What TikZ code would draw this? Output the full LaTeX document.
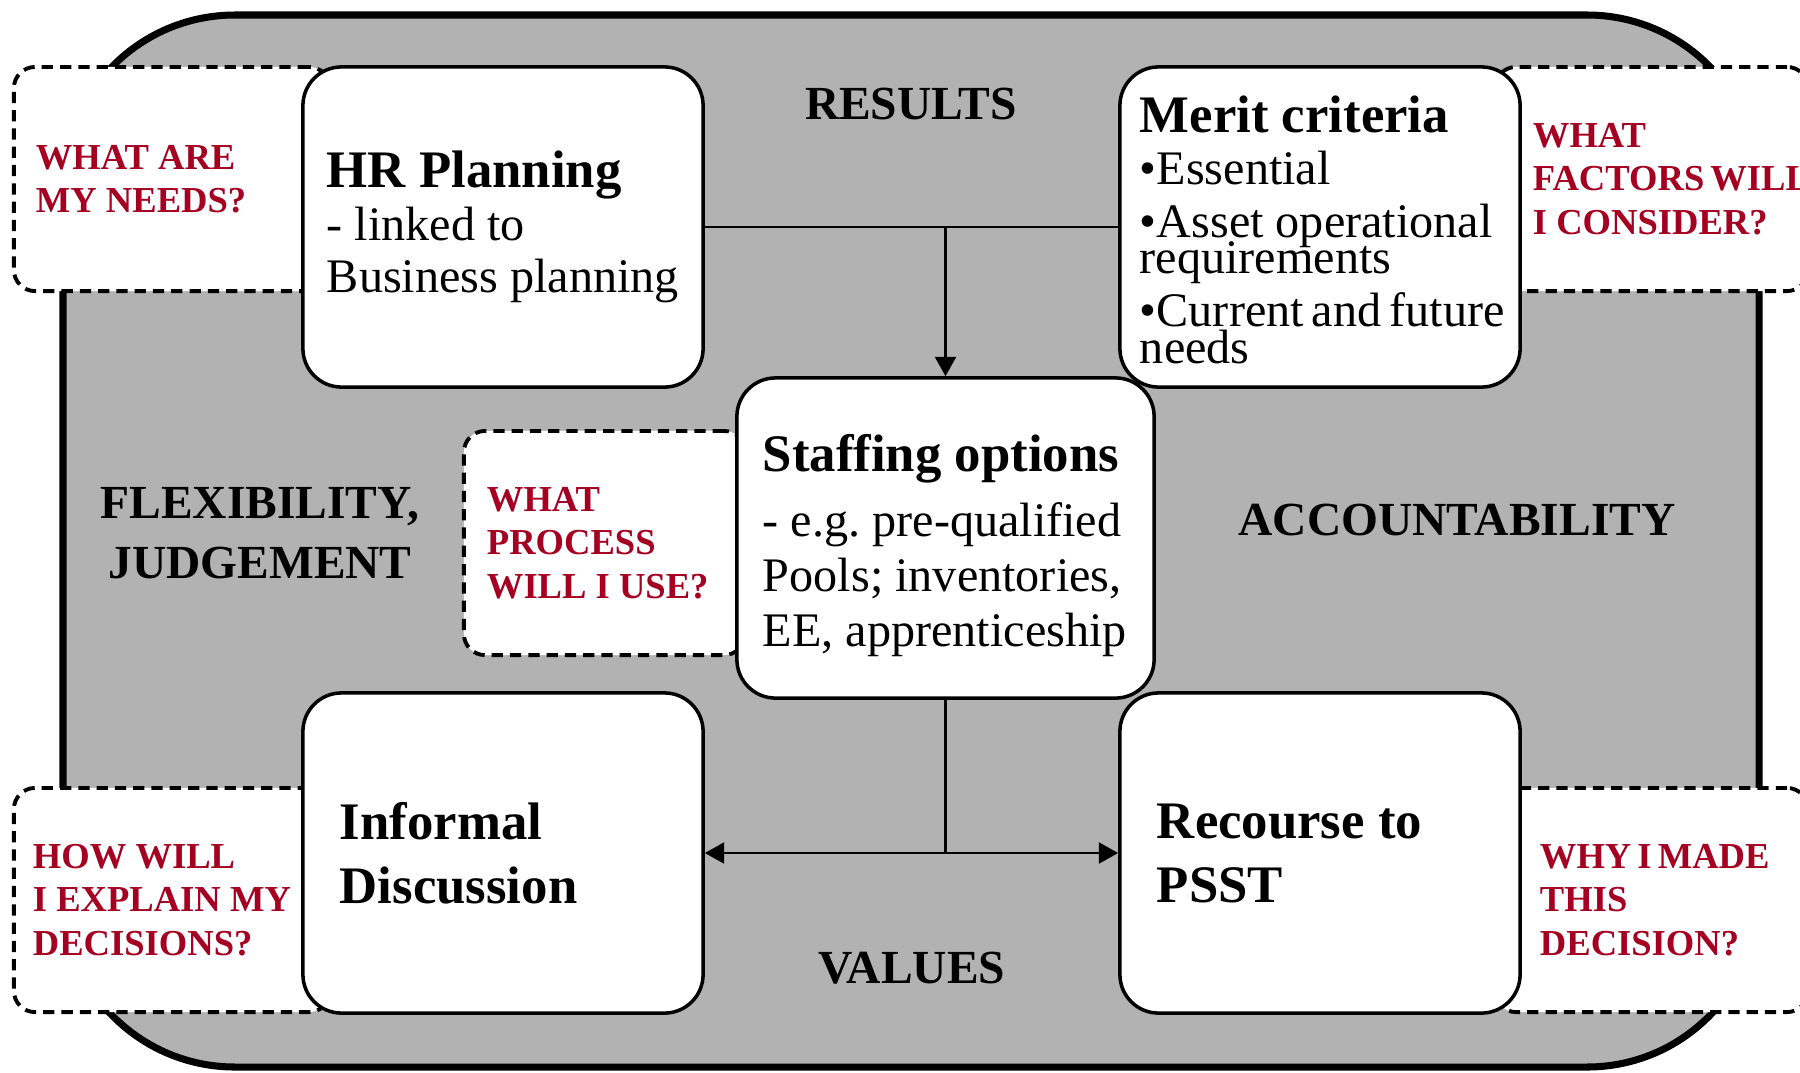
\documentclass[tikz,border=0pt]{standalone}
\usepackage{fontspec}
\setmainfont{Liberation Serif}
\usetikzlibrary{arrows.meta}
\definecolor{panelgray}{RGB}{178,178,178}
\definecolor{askred}{RGB}{165,0,33}
\newcommand\boxhead{\fontsize{15}{18.2}\selectfont\bfseries}
\newcommand\boxbody{\fontsize{13.7}{15}\selectfont}
\hyphenpenalty=10000
\exhyphenpenalty=10000
\begin{document}
\frenchspacing
\begin{tikzpicture}[x=0.01cm,y=-0.01cm,>={Triangle[length=5.5pt,width=6pt]},
    stagebox/.style={draw,line width=1pt,fill=white,rounded corners=11pt,inner sep=0pt,
        align=flush left,minimum width=4cm,minimum height=3.2cm,font=\boxbody},
    askbox/.style={draw,dash pattern=on 3.2pt off 2pt,line width=1.1pt,fill=white,rounded corners=6pt,
        inner sep=0pt,align=flush left,minimum height=2.24cm,text=askred,font=\fontsize{10.4}{12.4}\selectfont\bfseries},
    themetext/.style={align=center,font=\fontsize{13.5}{17}\selectfont\bfseries},
    link/.style={line width=0.6pt}]
    \useasboundingbox (0,0) rectangle (1800,1072);
    \draw[line width=2pt,fill=panelgray,rounded corners=48.9pt] (63,15) rectangle (1759,1067);

    \node[askbox,minimum width=3.16cm,text width=2.72cm] (needs) at (172,179) {WHAT ARE\\MY NEEDS?};
    \node[askbox,minimum width=3.13cm,text width=2.37cm] (factors) at (1651.5,179) {WHAT\\FACTORS~WILL\\I~CONSIDER?};
    \node[askbox,minimum width=2.81cm,text width=2.35cm] (process) at (604.5,543) {WHAT\\PROCESS\\WILL~I~USE?};
    \node[askbox,minimum width=3.16cm,text width=2.78cm] (explain) at (172,900) {HOW WILL\\I~EXPLAIN~MY\\DECISIONS?};
    \node[askbox,minimum width=3.13cm,text width=2.23cm] (decision) at (1651.5,900) {WHY~I~MADE\\THIS\\DECISION?};

    \node[stagebox,text width=3.52cm] (hr) at (503,227)
        {{\boxhead HR Planning}\\- linked to\\Business~planning};
    \node[stagebox,text width=3.6cm] (merit) at (1320,227)
        {{\boxhead\rule{0pt}{12pt}Merit criteria}\\•Essential\\•Asset~operational\\[-4.7pt]requirements\\•Current~and~future\\[-4.5pt]needs};
    \node[stagebox,minimum width=4.17cm,text width=3.65cm,font=\fontsize{13.7}{15.6}\selectfont] (staff) at (945.5,538)
        {{\boxhead\rule{0pt}{15pt}Staffing options}\\[2.9pt]-~e.g.~pre-qualified\\Pools;~inventories,\\EE,~apprenticeship};
    \node[stagebox,text width=3.26cm,font=\boxhead] (inf) at (503,853) {Informal\\Discussion};
    \node[stagebox,text width=3.26cm,font=\boxhead] (psst) at (1320,853) {Recourse~to\\PSST};

    \node[themetext] (results) at (911,104) {RESULTS};
    \node[themetext] (flex) at (260,533) {FLEXIBILITY,\\JUDGEMENT};
    \node[themetext] (account) at (1457,520) {ACCOUNTABILITY};
    \node[themetext] (values) at (912,968) {VALUES};

    \draw[link] (hr.east) -- (merit.west);
    \draw[link,->] (staff.north |- hr.east) -- (staff.north);
    \draw[link] (staff.south) -- (staff.south |- inf.east);
    \draw[link,<->] (inf.east) -- (psst.west);
\end{tikzpicture}
\end{document}
